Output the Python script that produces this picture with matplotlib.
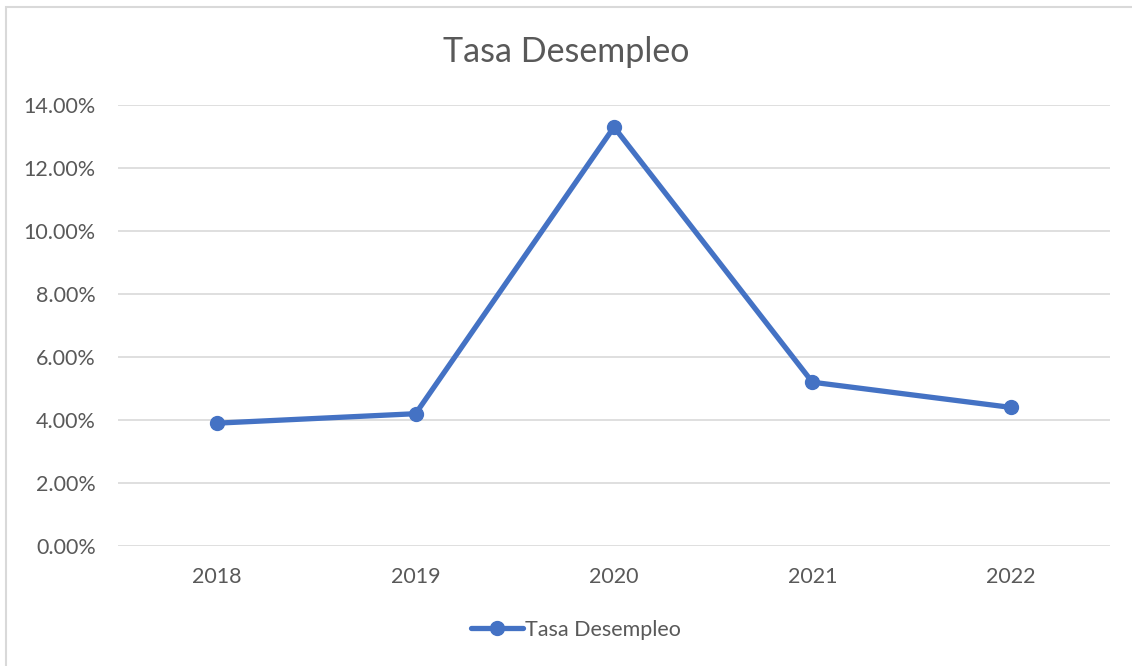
import matplotlib
matplotlib.use('Agg')
import matplotlib.pyplot as plt
from matplotlib.patches import Rectangle
from matplotlib.ticker import PercentFormatter

years = ['2018', '2019', '2020', '2021', '2022']
tasa = [0.039, 0.042, 0.133, 0.052, 0.044]
yticks = [0.0, 0.02, 0.04, 0.06, 0.08, 0.10, 0.12, 0.14]

blue = '#4472C4'
grey_txt = '#595959'
grid_c = '#D9D9D9'

plt.rcParams['font.family'] = ['Lato', 'DejaVu Sans']

W, H = 1132, 666
fig = plt.figure(figsize=(W / 100, H / 100), dpi=100)

# chart frame (cut off at right and bottom in the source)
fig.patches.append(Rectangle((5.5 / W, -0.1), 1.2, 1 - 6.5 / H + 0.1,
                             transform=fig.transFigure, fill=False,
                             edgecolor='#D9D9D9', linewidth=1.5))

ax = fig.add_axes([118 / W, 1 - 546 / H, (1110 - 118) / W, (546 - 105) / H])
x = list(range(len(years)))
ax.plot(x, tasa, color=blue, linewidth=3.8, marker='o', markersize=10,
        solid_capstyle='round', label='Tasa Desempleo')

ax.set_xlim(-0.5, 4.5)
ax.set_ylim(0, 0.14)
ax.set_yticks(yticks)
ax.yaxis.set_major_formatter(PercentFormatter(1.0, decimals=2))
ax.set_xticks(x)
ax.set_xticklabels(years)
ax.grid(axis='y', color=grid_c, linewidth=1.2)
ax.set_axisbelow(True)
for s in ax.spines.values():
    s.set_visible(False)
ax.tick_params(length=0, labelsize=15.5, colors=grey_txt)
ax.tick_params(axis='x', pad=15)
ax.tick_params(axis='y', pad=16)

fig.text(0.5, 1 - 52 / H, 'Tasa Desempleo', ha='center', va='center',
         fontsize=24.5, color=grey_txt)

fig.legend(loc='center', bbox_to_anchor=(576 / W, 1 - 630 / H), frameon=False,
           fontsize=15.5, labelcolor=grey_txt, handlelength=2.4, handletextpad=0.1)

fig.savefig('out.png', dpi=100, facecolor='white')
